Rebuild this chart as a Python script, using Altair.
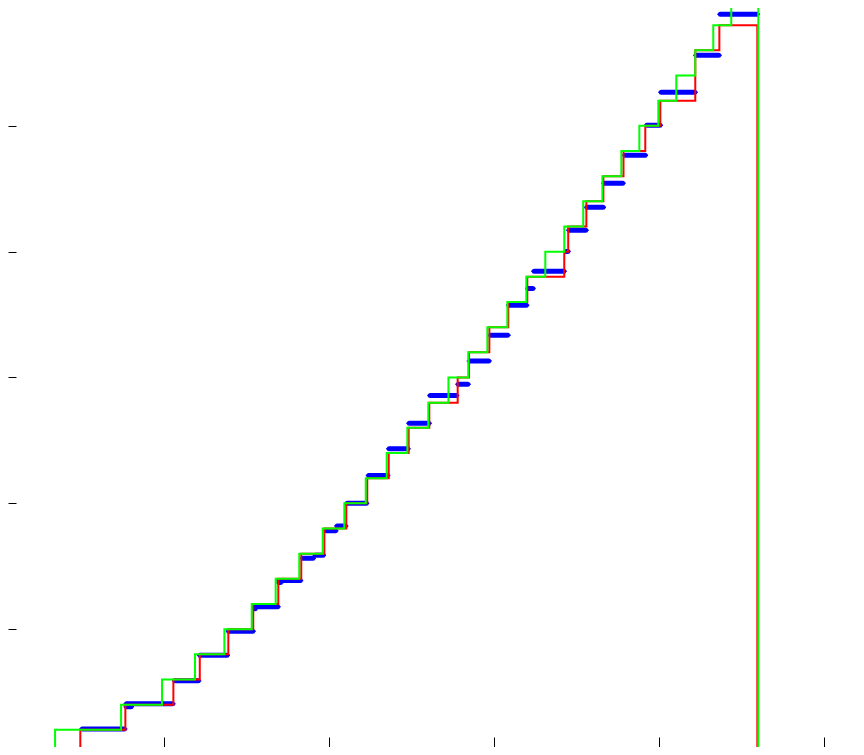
import altair as alt
import pandas as pd

# Step curves: time at which each successive count (1, 2, 3, ...) is reached
green_times = [3.38, 7.38, 9.86, 11.86, 13.64, 15.30, 16.75, 18.18, 19.60, 20.91,
               22.21, 23.48, 24.73, 26.00, 27.22, 28.42, 29.58, 30.79, 31.94, 33.09,
               34.24, 35.39, 36.55, 37.70, 38.79, 39.94, 41.03, 42.18, 43.27, 44.36]
green_end = 46.00
red_times = [4.91, 7.64, 10.55, 12.15, 13.88, 15.39, 16.91, 18.30, 19.70, 21.03,
             22.30, 23.60, 24.81, 26.06, 27.78, 28.47, 29.70, 30.85, 32.00, 34.24,
             34.48, 35.58, 36.61, 37.83, 39.15, 40.06, 42.18, 42.18, 43.64]
red_end = 45.94

# Blue interval bars
blue_start = [0.0, 45.92, 3.78, 4.85, 7.53, 7.53, 10.47, 11.98, 13.72, 15.32, 15.32,
              16.79, 16.79, 18.21, 18.99, 19.64, 20.30, 20.91, 22.21, 23.45, 24.67,
              25.94, 27.64, 28.33, 29.60, 30.71, 31.86, 32.24, 34.18, 34.36, 35.44,
              36.48, 37.74, 39.07, 39.94, 42.06, 43.52]
blue_end = [3.86, 53.0, 5.03, 7.76, 10.68, 8.16, 12.24, 13.98, 15.54, 17.05, 15.62,
            18.42, 17.22, 19.19, 19.80, 20.55, 21.15, 22.42, 23.70, 24.93, 26.21,
            27.88, 28.57, 29.84, 30.99, 32.12, 32.51, 34.39, 34.63, 35.72, 36.77,
            37.96, 39.32, 40.22, 42.33, 43.78, 46.10]
blue_level = [0, 0, 0.16, 1.03, 2.04, 1.92, 2.95, 3.96, 4.92, 5.89, 5.81,
              6.93, 6.85, 7.82, 7.94, 8.91, 9.10, 10.0, 11.11, 12.17, 13.18,
              14.28, 14.73, 15.66, 16.68, 17.87, 18.54, 19.22, 20.01, 20.85, 21.76,
              22.72, 23.83, 25.02, 26.33, 27.80, 29.43]

x_ticks = [10, 20, 30, 40, 50]
y_ticks = [5, 10, 15, 20, 25]
x_domain = [0.5273, 51.921]
y_domain = [0.3179, 29.682]

W, H = 848, 739


def step_frame(times, end):
    xs = [times[0]] + list(times) + [end]
    ys = [0] + list(range(1, len(times) + 1)) + [0]
    return pd.DataFrame({"t": xs, "n": ys, "i": range(len(xs))})


green_df = step_frame(green_times, green_end)
red_df = step_frame(red_times, red_end)
blue_df = pd.DataFrame({"t0": blue_start, "t1": blue_end, "n": blue_level})

xs = alt.Scale(domain=x_domain, nice=False, zero=False)
ys = alt.Scale(domain=y_domain, nice=False, zero=False)

x_axis = alt.Axis(orient="top", offset=-H, values=x_ticks, labels=False, domain=False,
                  grid=False, ticks=True, tickSize=10, tickColor="black", tickWidth=1,
                  title=None)
y_axis = alt.Axis(orient="right", offset=-W, values=y_ticks, labels=False, domain=False,
                  grid=False, ticks=True, tickSize=8, tickColor="black", tickWidth=1,
                  title=None)

X0 = alt.X("t0:Q", scale=xs, axis=x_axis)
YB = alt.Y("n:Q", scale=ys, axis=y_axis)
XL = alt.X("t:Q", scale=xs, axis=x_axis)

blue_thin = alt.Chart(blue_df).mark_rule(color="#0000ff", strokeWidth=1.5, clip=True).encode(
    x=X0, x2="t1:Q", y=YB,
)
blue_thick = alt.Chart(blue_df).mark_rule(
    color="#0000ff", strokeWidth=5, strokeCap="round", xOffset=3, x2Offset=-3, clip=True
).encode(
    x=X0, x2="t1:Q", y=YB,
)

red_line = alt.Chart(red_df).mark_line(
    color="#ff0000", strokeWidth=2, interpolate="step-after", clip=True
).encode(
    x=XL, y=YB, order="i:Q",
)
green_line = alt.Chart(green_df).mark_line(
    color="#00ff00", strokeWidth=2, interpolate="step-after", clip=True
).encode(
    x=XL, y=YB, order="i:Q",
)

chart = alt.layer(blue_thin, blue_thick, red_line, green_line).properties(
    width=W, height=H,
    autosize=alt.AutoSizeParams(type="none"),
    padding=0,
    background="white",
).configure_view(stroke=None)

chart.save("out.html", embed_options={"renderer": "svg", "actions": False})
